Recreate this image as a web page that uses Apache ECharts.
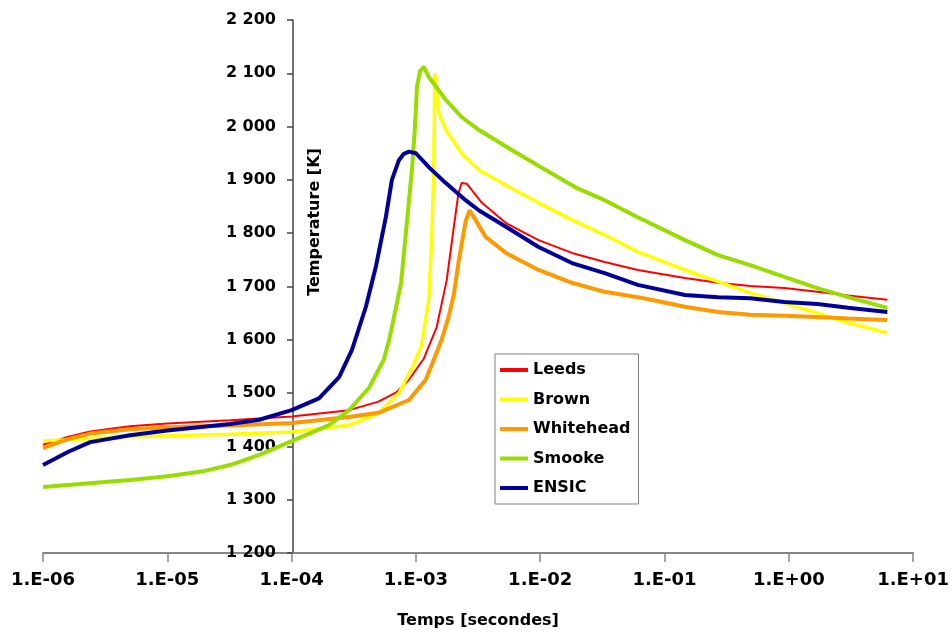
<!DOCTYPE html>
<html>
<head>
<meta charset="utf-8">
<script src="https://cdn.jsdelivr.net/npm/echarts@6/dist/echarts.min.js"></script>
<style>
html,body{margin:0;padding:0;background:#fff;}
#chart{width:952px;height:634px;}
</style>
</head>
<body>
<div id="chart"></div>
<script>
var seriesNames = ['Leeds', 'Brown', 'Whitehead', 'Smooke', 'ENSIC'];
var xTickLabels = ['1.E-06', '1.E-05', '1.E-04', '1.E-03', '1.E-02', '1.E-01', '1.E+00', '1.E+01'];

var leeds = [[1e-6,1403],[1.6e-6,1418],[2.4e-6,1428],[5e-6,1438],[1e-5,1443],[3.2e-5,1449],[1e-4,1456],[2.9e-4,1468],[5e-4,1484],[7e-4,1502],[8.8e-4,1525],[1.16e-3,1565],[1.47e-3,1624],[1.77e-3,1712],[2.0e-3,1805],[2.2e-3,1875],[2.33e-3,1894],[2.56e-3,1893],[3.4e-3,1857],[5.3e-3,1819],[9.7e-3,1787],[1.8e-2,1763],[3.3e-2,1746],[6.1e-2,1731],[0.146,1716],[0.27,1707],[0.49,1701],[0.92,1697],[1.7,1690],[3.0,1683],[6.2,1675]];

var brown = [[1e-6,1410],[2.4e-6,1415],[5e-6,1418],[1e-5,1420],[3.2e-5,1423],[1e-4,1427],[2.9e-4,1440],[5e-4,1462],[7.3e-4,1500],[9.6e-4,1553],[1.11e-3,1590],[1.27e-3,1675],[1.34e-3,1787],[1.39e-3,1913],[1.42e-3,2100],[1.47e-3,2062],[1.53e-3,2025],[1.74e-3,1994],[2.33e-3,1950],[3.2e-3,1919],[5.3e-3,1890],[9.7e-3,1857],[1.8e-2,1825],[3.3e-2,1797],[6.1e-2,1765],[0.146,1731],[0.27,1709],[0.49,1688],[0.92,1669],[1.7,1650],[3.0,1632],[6.2,1613]];

var whitehead = [[1e-6,1397],[1.6e-6,1414],[2.4e-6,1424],[5e-6,1432],[1e-5,1436],[3.2e-5,1439],[1e-4,1444],[2.9e-4,1455],[5e-4,1463],[8.8e-4,1487],[1.2e-3,1525],[1.39e-3,1562],[1.61e-3,1600],[1.84e-3,1645],[2.01e-3,1682],[2.21e-3,1748],[2.51e-3,1822],[2.70e-3,1843],[3.02e-3,1825],[3.64e-3,1793],[5.3e-3,1763],[9.7e-3,1731],[1.8e-2,1707],[3.3e-2,1690],[6.1e-2,1680],[7.8e-2,1675],[0.146,1662],[0.27,1652],[0.49,1647],[0.92,1645],[1.7,1643],[3.0,1640],[6.2,1637]];

var smooke = [[1e-6,1324],[5e-6,1337],[1e-5,1344],[2e-5,1354],[3.2e-5,1365],[5.5e-5,1384],[1e-4,1410],[2.0e-4,1440],[2.9e-4,1468],[4.2e-4,1510],[5.5e-4,1562],[6.1e-4,1600],[7.6e-4,1707],[8.45e-4,1819],[9.3e-4,1920],[9.8e-4,1995],[1.02e-3,2075],[1.08e-3,2104],[1.16e-3,2112],[1.27e-3,2093],[1.74e-3,2050],[2.33e-3,2018],[3.2e-3,1994],[5.9e-3,1956],[1.1e-2,1919],[2.0e-2,1884],[3.3e-2,1862],[6.1e-2,1830],[0.146,1787],[0.27,1759],[0.49,1740],[0.92,1718],[1.7,1697],[3.0,1680],[6.2,1660]];

var ensic = [[1e-6,1365],[1.6e-6,1390],[2.4e-6,1408],[5e-6,1421],[1e-5,1430],[3.2e-5,1442],[5.5e-5,1450],[1e-4,1468],[1.66e-4,1490],[2.41e-4,1530],[3.06e-4,1581],[3.96e-4,1662],[4.76e-4,1737],[5.74e-4,1831],[6.41e-4,1900],[7.3e-4,1937],[8.0e-4,1949],[8.8e-4,1953],[1.0e-3,1950],[1.27e-3,1924],[1.74e-3,1894],[2.51e-3,1862],[3.2e-3,1843],[5.3e-3,1812],[9.7e-3,1774],[1.8e-2,1744],[3.3e-2,1725],[6.1e-2,1703],[0.146,1684],[0.27,1680],[0.49,1678],[0.92,1671],[1.7,1667],[3.0,1660],[6.2,1652]];

var seriesData = [leeds, brown, whitehead, smooke, ensic];
var colors = ['#FF0000', '#FFFF00', '#FF9900', '#99DD00', '#000099'];
var widths = [2, 3.5, 4, 4, 4];

var FONT = 'DejaVu Sans';
var chart = echarts.init(document.getElementById('chart'), null, {renderer: 'canvas'});

var option = {
  animation: false,
  backgroundColor: '#ffffff',
  grid: {left: 43, right: 36, top: 20, bottom: 81, containLabel: false},
  xAxis: {
    type: 'log', logBase: 10, min: 1e-6, max: 10,
    name: 'Temps [secondes]', nameLocation: 'middle', nameGap: 60,
    nameTextStyle: {fontFamily: FONT, fontWeight: 'bold', fontSize: 16, color: '#000'},
    axisLine: {show: true, lineStyle: {color: '#868686', width: 2}},
    axisTick: {show: true, inside: false, length: 9, lineStyle: {color: '#868686', width: 1.5}},
    minorTick: {show: false},
    splitLine: {show: false},
    axisLabel: {
      margin: 18, fontFamily: FONT, fontWeight: 'bold', fontSize: 18, color: '#000',
      formatter: function (v) { var e = Math.round(Math.log10(v)); return xTickLabels[e + 6]; }
    }
  },
  yAxis: {
    type: 'value', min: 1200, max: 2200, interval: 100,
    position: 'left', offset: -250,
    axisLine: {show: true, lineStyle: {color: '#444', width: 1.5}},
    axisTick: {show: true, inside: false, length: 6, lineStyle: {color: '#444', width: 1.5}},
    splitLine: {show: false},
    axisLabel: {
      margin: 17, fontFamily: FONT, fontWeight: 'bold', fontSize: 16, color: '#000',
      formatter: function (v) { return String(v).replace(/\B(?=(\d{3})+(?!\d))/g, ' '); }
    }
  },
  legend: {
    orient: 'vertical', left: 495, top: 354,
    padding: [6, 8, 6, 5],
    itemGap: 9.5, itemWidth: 28, itemHeight: 4,
    icon: 'rect',
    backgroundColor: '#fff',
    borderColor: '#808080', borderWidth: 1, borderRadius: 0,
    textStyle: {fontFamily: FONT, fontWeight: 'bold', fontSize: 16, color: '#000', lineHeight: 20},
    data: seriesNames
  },
  graphic: [{
    type: 'text', x: 315, y: 222, rotation: Math.PI / 2,
    style: {text: 'Temperature [K]', fontFamily: FONT, fontWeight: 'bold', fontSize: 16, fill: '#000', align: 'center', verticalAlign: 'middle'}
  }],
  series: seriesNames.map(function (n, i) {
    return {
      name: n, type: 'line', data: seriesData[i], symbol: 'none', smooth: false,
      color: colors[i],
      lineStyle: {color: colors[i], width: widths[i]},
      itemStyle: {color: colors[i]},
      z: 2 + i
    };
  })
};
chart.setOption(option);
</script>
</body>
</html>
